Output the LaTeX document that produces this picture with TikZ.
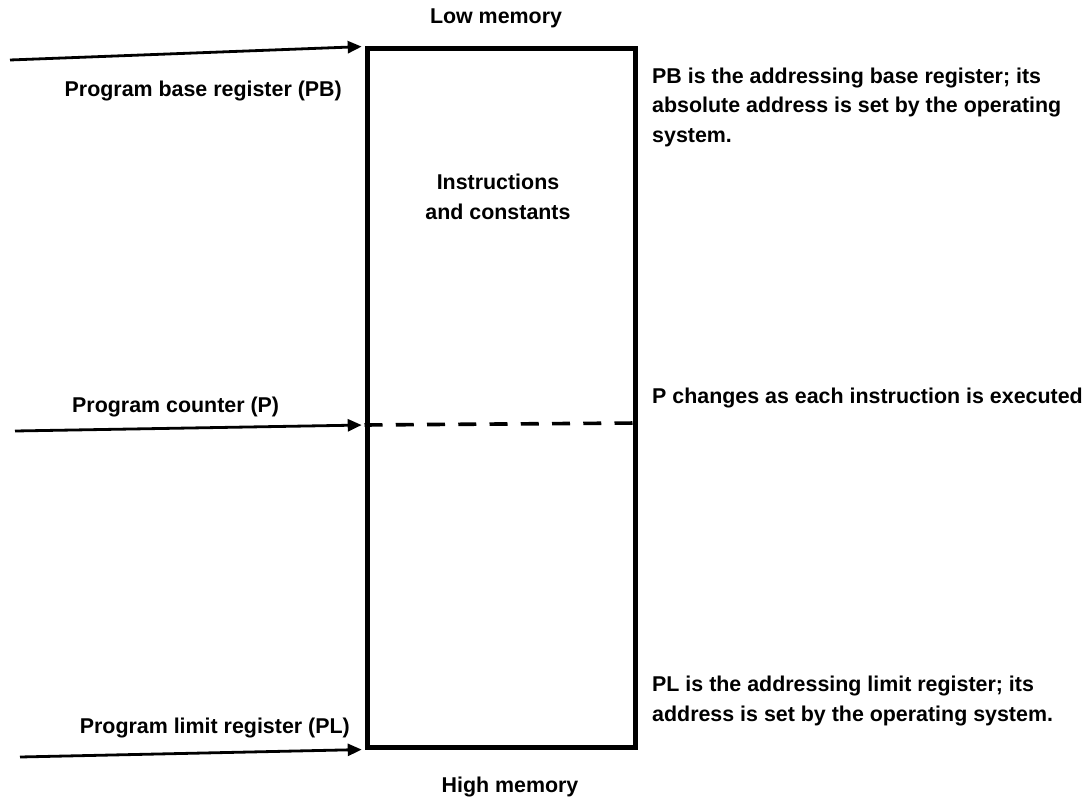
\documentclass[tikz,border=0pt]{standalone}
\usepackage{fontspec}
\setmainfont{Liberation Sans}
\usetikzlibrary{arrows.meta}
\tikzset{
  lbl/.style={inner sep=0pt, font=\bfseries\fontsize{21.4}{29.5}\selectfont},
  note/.style={lbl, anchor=west, align=left},
  membox/.style={draw, line width=5pt, minimum width=268pt, minimum height=698pt, inner sep=0pt},
  ptr/.style={line width=2.8pt, -{Triangle[length=14pt,width=12pt]}, shorten >=2.8pt},
  cursor/.style={line width=3.6pt, dash pattern=on 18pt off 13.25pt}
}
\begin{document}
\begin{tikzpicture}[x=1pt,y=-1pt]
\useasboundingbox (0,0) rectangle (1086,799);
\node[membox] (mem) at (501,398) {};
\node[lbl] (low) at (496,18) {Low memory};
\node[lbl] (high) at (510,787) {High memory};
\node[lbl, align=center] (ic) at (498,197) {Instructions\\and constants};
% pointers
\coordinate (pbstart) at (10,60);
\coordinate (pstart) at (15,431);
\coordinate (plstart) at (20,757);
\coordinate (pin) at (mem.west |- 0,425);
\coordinate (pout) at (mem.east |- 0,423);
\draw[ptr] (pbstart) -- (mem.north west);
\draw[ptr] (pstart) -- (pin);
\draw[ptr] (plstart) -- (mem.south west);
\draw[cursor] (pin) -- (pout);
% left labels
\node[lbl, anchor=east] (pb) at (342,91) {Program base register (PB)};
\node[lbl, anchor=west] (pc) at (72,407) {Program counter (P)};
\node[lbl, anchor=east] (pl) at (350,728) {Program limit register (PL)};
% right notes
\node[note] (pbn) at (652,107) {PB is the addressing base register; its\\absolute address is set by the operating\\system.};
\node[note] (pn) at (652,398) {P changes as each instruction is executed};
\node[note] (pln) at (652,701) {PL is the addressing limit register; its\\address is set by the operating system.};
\end{tikzpicture}
\end{document}
